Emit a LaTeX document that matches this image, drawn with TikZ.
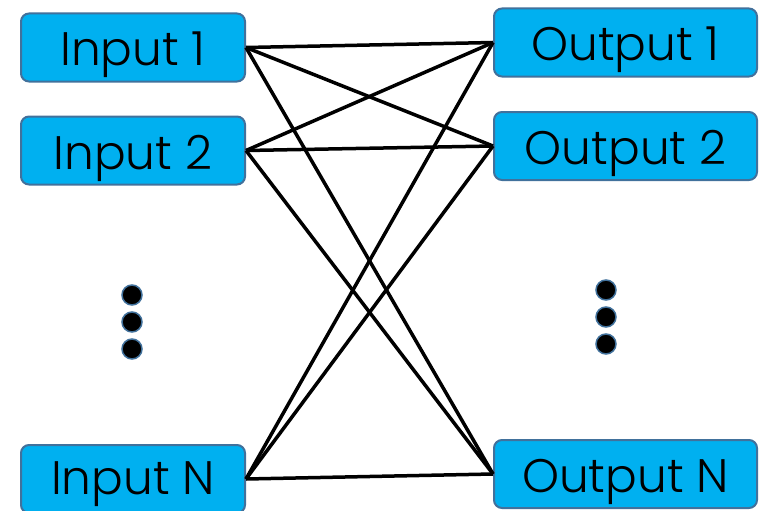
\documentclass[tikz,border=0pt]{standalone}
\usepackage{fontspec}
\IfFontExistsTF{Poppins Light}{\setmainfont{Poppins Light}}{\setmainfont{Poppins}}
\definecolor{boxfill}{HTML}{00B0F0}
\definecolor{boxedge}{HTML}{41719C}
\begin{document}
\begin{tikzpicture}[x=1pt,y=-1pt,
  port/.style={draw=boxedge, fill=boxfill, line width=2pt, rounded corners=8pt,
    inner sep=0pt, font=\fontsize{47}{50}\selectfont, text=black,
    text height=37pt, text depth=0pt},
  inport/.style={port, minimum width=224pt, minimum height=68pt},
  outport/.style={port, minimum width=263pt, minimum height=68pt},
  wire/.style={line width=3.5pt, black},
  ellip/.style={circle, draw=boxedge, fill=black, line width=1.5pt, minimum size=20pt, inner sep=0pt}]
\useasboundingbox (0,0) rectangle (760,511);
% input side
\node[inport] (i1) at (133,47.5) {Input 1};
\node[inport] (i2) at (133,150.5) {Input 2};
\node[inport, text height=31pt] (iN) at (133,479) {Input N};
% output side
\node[outport] (o1) at (625.5,42.5) {Output 1};
\node[outport] (o2) at (625.5,146) {Output 2};
\node[outport] (oN) at (625.5,474) {Output N};
% vertical ellipses
\node[ellip] (l1) at (132,295) {};
\node[ellip] (l2) at (132,322) {};
\node[ellip] (l3) at (132,349) {};
\node[ellip] (r1) at (606,290) {};
\node[ellip] (r2) at (606,317) {};
\node[ellip] (r3) at (606,344) {};
% every input wired to every output
\foreach \a in {i1,i2,iN}
  \foreach \b in {o1,o2,oN}
    \draw[wire] (\a.east) -- (\b.west);
\end{tikzpicture}
\end{document}
